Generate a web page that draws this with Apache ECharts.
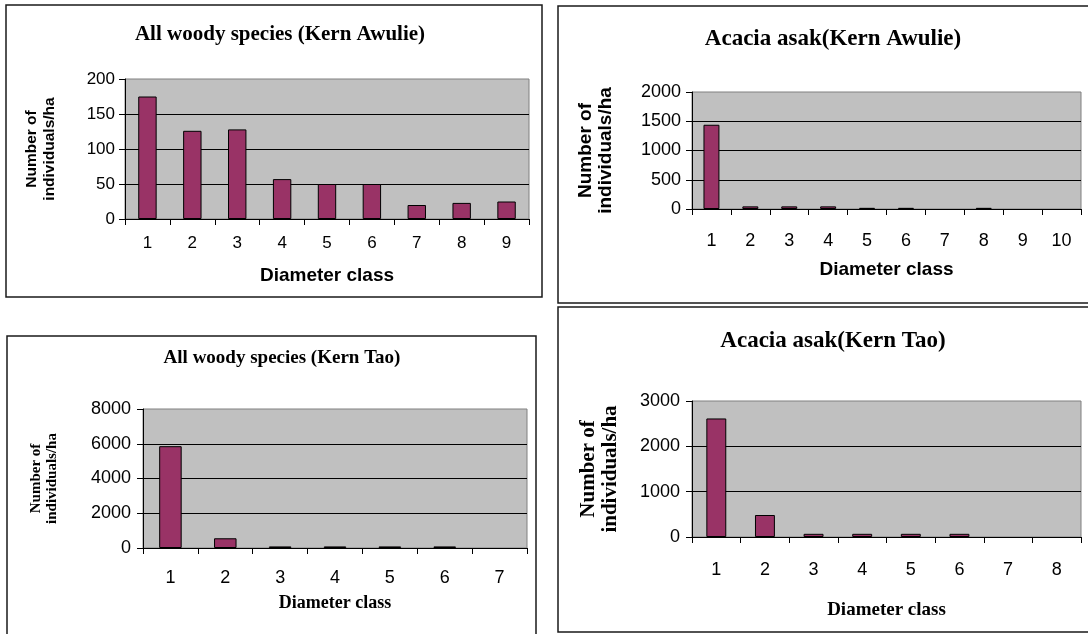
<!DOCTYPE html>
<html>
<head>
<meta charset="utf-8">
<title>Diameter class distribution</title>
<script src="https://cdn.jsdelivr.net/npm/echarts@6/dist/echarts.min.js"></script>
<style>
  html, body { margin: 0; padding: 0; background: #ffffff; }
  #chart { width: 1088px; height: 634px; }
</style>
</head>
<body>
<div id="chart"></div>
<script>
// Diameter classes per panel
const classesAwulieAll = ['1', '2', '3', '4', '5', '6', '7', '8', '9'];
const classesAwulieAcacia = ['1', '2', '3', '4', '5', '6', '7', '8', '9', '10'];
const classesTaoAll = ['1', '2', '3', '4', '5', '6', '7'];
const classesTaoAcacia = ['1', '2', '3', '4', '5', '6', '7', '8'];

// Number of individuals per hectare in each diameter class
const densityAwulieAll = [175, 126, 128, 57, 50, 50, 20, 23, 25];
const densityAwulieAcacia = [1440, 45, 45, 45, 20, 20, 0, 20, 0, 0];
const densityTaoAll = [5860, 560, 90, 90, 90, 90, 0];
const densityTaoAcacia = [2615, 485, 70, 70, 70, 70, 0, 0];

// Panel titles and axis titles
const titles = [
  'All woody species (Kern Awulie)',
  'Acacia asak(Kern Awulie)',
  'All woody species (Kern Tao)',
  'Acacia asak(Kern Tao)'
];
const xTitle = 'Diameter class';
const yTitle = 'Number of\nindividuals/ha';

const SANS = '"Liberation Sans", Arial, sans-serif';
const SERIF = '"Liberation Serif", "Times New Roman", serif';

// Layout of each panel: plot area, frame, fonts
const panels = [
  { cats: classesAwulieAll, vals: densityAwulieAll, max: 200, step: 50,
    grid: { left: 125, top: 79, width: 404, height: 140 },
    frame: [6, 5, 536, 292],
    title: { x: 275, y: 19, size: 21 },
    tickFont: SANS, tickSize: 17, xMargin: 16, yMargin: 10,
    xName: { font: SANS, size: 19, gap: 47 },
    yName: { font: SANS, size: 15.5, gap: 66, lh: 18 } },
  { cats: classesAwulieAcacia, vals: densityAwulieAcacia, max: 2000, step: 500,
    grid: { left: 692, top: 92, width: 389, height: 117 },
    frame: [558, 6, 540, 297],
    title: { x: 828, y: 23, size: 23 },
    tickFont: SANS, tickSize: 18, xMargin: 23, yMargin: 11,
    xName: { font: SANS, size: 19, gap: 51 },
    yName: { font: SANS, size: 19, gap: 76, lh: 20 } },
  { cats: classesTaoAll, vals: densityTaoAll, max: 8000, step: 2000,
    grid: { left: 143, top: 409, width: 384, height: 139 },
    frame: [7, 336, 529, 310],
    title: { x: 277, y: 344, size: 19 },
    tickFont: SANS, tickSize: 18, xMargin: 21, yMargin: 12,
    xName: { font: SERIF, size: 18, gap: 46 },
    yName: { font: SERIF, size: 15, gap: 83, lh: 16 } },
  { cats: classesTaoAcacia, vals: densityTaoAcacia, max: 3000, step: 1000,
    grid: { left: 692, top: 401, width: 389, height: 136 },
    frame: [558, 307, 540, 325],
    title: { x: 828, y: 325, size: 23 },
    tickFont: SANS, tickSize: 18, xMargin: 24, yMargin: 12,
    xName: { font: SERIF, size: 19, gap: 64 },
    yName: { font: SERIF, size: 21, gap: 70, lh: 22 } }
];

// Empty classes are drawn without an outline so they leave no mark
function barData(vals) {
  return vals.map(v => v === 0 ? { value: v, itemStyle: { borderWidth: 0 } } : v);
}

const option = {
  animation: false,
  backgroundColor: '#ffffff',
  title: panels.map((p, i) => ({
    text: titles[i],
    left: p.title.x,
    top: p.title.y,
    textAlign: 'center',
    textStyle: { fontFamily: SERIF, fontWeight: 'bold', fontSize: p.title.size, color: '#000' }
  })),
  graphic: panels.map(p => ({
    type: 'rect',
    shape: { x: p.frame[0], y: p.frame[1], width: p.frame[2], height: p.frame[3] },
    style: { fill: 'none', stroke: '#1a1a1a', lineWidth: 1.5 },
    z: 10
  })),
  grid: panels.map(p => ({
    left: p.grid.left, top: p.grid.top, width: p.grid.width, height: p.grid.height,
    show: true, backgroundColor: '#C0C0C0', borderColor: '#808080', borderWidth: 1
  })),
  xAxis: panels.map((p, i) => ({
    type: 'category',
    gridIndex: i,
    data: p.cats,
    boundaryGap: true,
    name: xTitle,
    nameLocation: 'middle',
    nameGap: p.xName.gap,
    nameTextStyle: { fontFamily: p.xName.font, fontWeight: 'bold', fontSize: p.xName.size, color: '#000' },
    axisLine: { show: true, lineStyle: { color: '#000', width: 1 } },
    axisTick: { show: true, alignWithLabel: false, interval: 0, length: 6, lineStyle: { color: '#000' } },
    axisLabel: { interval: 0, margin: p.xMargin, fontFamily: p.tickFont, fontSize: p.tickSize, color: '#000' },
    splitLine: { show: false }
  })),
  yAxis: panels.map((p, i) => ({
    type: 'value',
    gridIndex: i,
    min: 0,
    max: p.max,
    interval: p.step,
    name: yTitle,
    nameLocation: 'middle',
    nameRotate: 90,
    nameGap: p.yName.gap,
    nameTextStyle: { fontFamily: p.yName.font, fontWeight: 'bold', fontSize: p.yName.size,
                     lineHeight: p.yName.lh, color: '#000', align: 'center' },
    axisLine: { show: true, lineStyle: { color: '#000', width: 1 } },
    axisTick: { show: true, length: 6, lineStyle: { color: '#000' } },
    axisLabel: { margin: p.yMargin, fontFamily: p.tickFont, fontSize: p.tickSize, color: '#000',
                 formatter: v => String(v) },
    splitLine: { show: true, showMaxLine: false, lineStyle: { color: '#000', width: 1 } }
  })),
  series: panels.map((p, i) => ({
    type: 'bar',
    xAxisIndex: i,
    yAxisIndex: i,
    data: barData(p.vals),
    barCategoryGap: '59%',
    itemStyle: { color: '#993366', borderColor: '#000', borderWidth: 1 }
  }))
};

const chart = echarts.init(document.getElementById('chart'), null, { renderer: 'canvas' });
chart.setOption(option);
</script>
</body>
</html>
